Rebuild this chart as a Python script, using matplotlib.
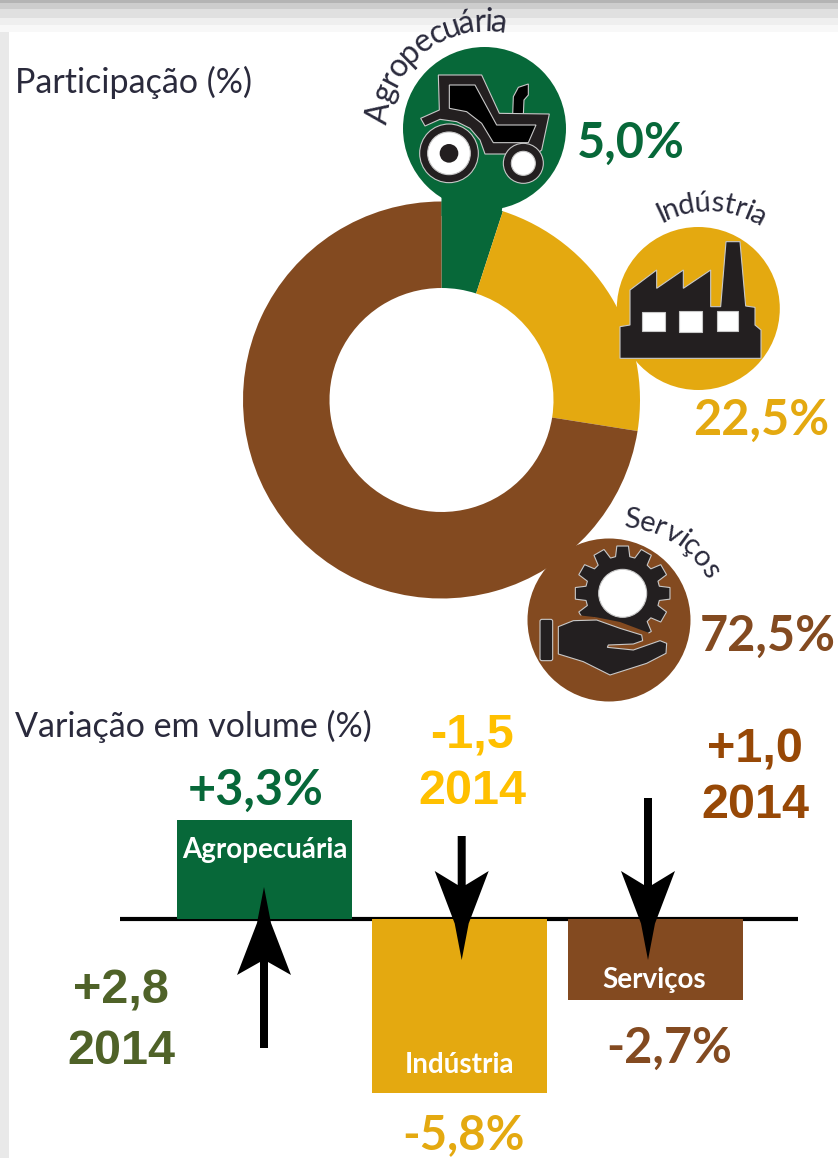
import numpy as np
import matplotlib
matplotlib.use('Agg')
import matplotlib.pyplot as plt
from matplotlib.patches import Circle, Polygon, Rectangle, FancyBboxPatch
from matplotlib.textpath import TextPath
from matplotlib.font_manager import FontProperties

W, H = 838, 1158

# Participacao (%)
sectors = ['Agropecuária', 'Indústria', 'Serviços']
shares = [5.0, 22.5, 72.5]
share_labels = ['5,0%', '22,5%', '72,5%']
# Variacao em volume (%)
variation = [3.3, -5.8, -2.7]
variation_labels = ['+3,3%', '-5,8%', '-2,7%']
labels_2014 = ['+2,8', '-1,5', '+1,0']
year = '2014'

GREEN = '#076839'
GOLD = '#E4A910'
BROWN = '#834A20'
DARK = '#231F20'
INK = '#2A2A3C'
EDGE = '#C8C8C8'
colors = [GREEN, GOLD, BROWN]

plt.rcParams['font.family'] = ['Lato', 'DejaVu Sans']

fig = plt.figure(figsize=(W / 100, H / 100), dpi=100, facecolor='white')


def px_axes(x0, y0, x1, y1, z):
    return fig.add_axes([x0 / W, 1 - y1 / H, (x1 - x0) / W, (y1 - y0) / H], zorder=z)


# donut
cx, cy, R = 441.5, 400, 198.5
ax_pie = px_axes(cx - R, cy - R, cx + R, cy + R, 1)
ax_pie.pie(shares, colors=colors, startangle=90, counterclock=False, radius=1,
           wedgeprops=dict(width=1 - 112 / R, linewidth=0))
ax_pie.set_xlim(-1, 1)
ax_pie.set_ylim(-1, 1)
ax_pie.axis('off')

# bars, 30 px per percentage point, baseline at y=919
ax_bar = px_axes(120, 799, 798, 1099, 2)
ax_bar.bar(range(3), variation, width=175 / 195.25, color=colors, linewidth=0, zorder=2)
ax_bar.axhline(0, color='black', linewidth=3, zorder=1)
ax_bar.set_xlim((120 - 264.5) / 195.25, (798 - 264.5) / 195.25)
ax_bar.set_ylim(-6, 4)
ax_bar.axis('off')

# everything else is drawn in image pixels
ax = px_axes(0, 0, W, H, 3)
ax.set_xlim(0, W)
ax.set_ylim(H, 0)
ax.axis('off')

# screenshot edges
bands = [(0, 3, '#B4B4B4'), (3, 9, '#CDCDCD'), (9, 18, '#E0E0E0'), (18, 25, '#EFEFEF'), (25, 32, '#F8F8F8')]
for y0, y1, c in bands:
    ax.add_patch(Rectangle((0, y0), W, y1 - y0, color=c, lw=0))
ax.add_patch(Rectangle((0, 32), 9, H - 32, color='#E9E9E9', lw=0))


def zoomed(pts, ox, oy):
    return [(ox + p[0] / 3, oy + p[1] / 3) for p in pts]


def shape(pts, ox, oy, fc=DARK, ec=EDGE, lw=0.8):
    ax.add_patch(Polygon(zoomed(pts, ox, oy), closed=True, fc=fc, ec=ec, lw=lw))


def disc(x, y, r, ox, oy, fc, ec=EDGE, lw=0.8):
    ax.add_patch(Circle((ox + x / 3, oy + y / 3), r / 3, fc=fc, ec=ec, lw=lw))


def curved(text, xc, yc, r, start, size, gap):
    # one glyph at a time along a circle, angle in degrees from 12 o'clock
    fp = FontProperties(family='Lato', size=size)
    a = np.radians(start)
    for ch in text:
        w = TextPath((0, 0), ch, prop=fp).get_extents().width * 100 / 72 + gap
        mid = a + (w / 2) / r
        x = xc + r * np.sin(mid)
        y = yc - r * np.cos(mid)
        ax.text(x, y, ch, fontproperties=fp, color=INK, ha='center', va='baseline',
                rotation=-np.degrees(mid), rotation_mode='anchor')
        a += w / r


# agro badge
ax.add_patch(Circle((484.5, 128.5), 81.5, color=GREEN, lw=0))
ax.add_patch(Polygon([(441.5, 190), (441.5, 216), (501, 216), (505, 190)], color=GREEN, lw=0))
ox, oy = 360, 0
shape([(458, 345), (460, 290), (475, 262), (505, 252), (505, 285), (492, 300), (490, 345)], ox, oy, fc='black')
shape([(182, 355), (238, 330), (235, 225), (365, 225), (418, 340), (568, 342), (545, 450), (530, 462),
       (375, 462), (360, 420), (330, 385), (290, 365), (240, 358), (195, 378)], ox, oy, fc=DARK)
shape([(268, 255), (345, 255), (410, 375), (528, 375), (505, 428), (400, 428), (365, 370), (320, 335),
       (268, 325)], ox, oy, fc='black')
disc(267, 460, 88, ox, oy, DARK)
disc(267, 460, 64, ox, oy, 'white')
disc(267, 460, 28, ox, oy, DARK, ec='none')
disc(490, 490, 60, ox, oy, DARK)
disc(490, 490, 36, ox, oy, 'white')
curved(sectors[0], 484.5, 128.5, 97, -88, 23, 1.2)

# industry badge
ax.add_patch(Circle((698.3, 308.5), 81.5, color=GOLD, lw=0))
ox, oy = 600, 180
shape([(60, 535), (60, 440), (90, 435), (90, 330), (170, 270), (170, 325), (250, 270), (250, 325), (332, 270),
       (332, 380), (362, 380), (378, 185), (420, 185), (437, 378), (465, 382), (465, 435), (483, 450), (483, 535)],
      ox, oy)
for x0, y0, x1, y1 in [(127, 395, 195, 452), (237, 392, 305, 455), (350, 392, 415, 452)]:
    shape([(x0, y0), (x1, y0), (x1, y1), (x0, y1)], ox, oy, fc='white')
curved(sectors[1], 707.6, 311.4, 100, -26.5, 21, 2)

# services badge
ax.add_patch(Circle((609, 620), 81.5, color=BROWN, lw=0))
ox, oy = 520, 500
gear = []
for k in range(12):
    t = np.radians(30 * k)
    for da, rr in [(-11, 112), (-7, 143), (7, 143), (11, 112)]:
        gear.append((308 + rr * np.sin(t + np.radians(da)), 280 - rr * np.cos(t + np.radians(da))))
shape(gear, ox, oy)
disc(308, 280, 72, ox, oy, 'white')
shape([(170, 345), (230, 352), (300, 366), (385, 398), (400, 440), (170, 440)], ox, oy, fc=BROWN, ec='none', lw=0)
ax.add_patch(FancyBboxPatch((520 + 60 / 3, 500 + 358 / 3), 38 / 3, 124 / 3, boxstyle='round,pad=0,rounding_size=2',
                            fc=DARK, ec=EDGE, lw=0.8))
shape([(115, 380), (160, 362), (230, 360), (300, 385), (365, 405), (368, 422), (340, 432), (265, 435), (262, 442),
       (340, 450), (420, 422), (440, 430), (438, 460), (380, 490), (270, 525), (190, 485), (115, 462)], ox, oy)
curved(sectors[2], 620, 625, 97.5, 2, 21, 1.6)


def arrow(x, tail, tip, wing, notch):
    # wing and notch are y positions of the head's back
    mid = (wing + tip) / 2 + 8 * np.sign(tip - wing)
    ax.add_patch(Polygon([(x - 4, tail), (x + 4, tail), (x + 4, notch), (x + 27, wing), (x + 7, mid),
                          (x, tip), (x - 7, mid), (x - 27, wing), (x - 4, notch)],
                         closed=True, fc='black', ec='none'))


arrow(264, 1048, 887, 975, 962)
arrow(461.7, 836, 960, 871, 885)
arrow(648, 798, 960, 871, 885)

# text
ax.text(15, 82, 'Participação (%)', fontsize=24.5, color=INK, ha='left', va='center')
ax.text(15, 726, 'Variação em volume (%)', fontsize=24.5, color=INK, ha='left', va='center')

big = dict(fontsize=35, fontweight='bold', va='center')
ax.text(631, 143, share_labels[0], color=GREEN, ha='center', **big)
ax.text(761, 420, share_labels[1], color=GOLD, ha='center', **big)
ax.text(768, 636, share_labels[2], color=BROWN, ha='center', **big)
ax.text(256, 790, variation_labels[0], color=GREEN, ha='center', **big)
ax.text(463, 1135, variation_labels[1], color=GOLD, ha='center', fontsize=34, fontweight='bold', va='center')
ax.text(669, 1048, variation_labels[2], color=BROWN, ha='center', **big)

inside = dict(fontsize=20, fontweight='bold', color='white', ha='center', va='center')
ax.text(264.5, 850, sectors[0], **inside)
ax.text(459, 1065, sectors[1], **inside)
ax.text(654, 980, sectors[2], **inside)

y14 = dict(family='Liberation Sans', fontsize=35, fontweight='bold', ha='center', va='center')
ax.text(121, 991, labels_2014[0], color='#4F6228', **y14)
ax.text(121, 1052, year, color='#4F6228', **y14)
ax.text(472, 735, labels_2014[1], color='#FFC000', **y14)
ax.text(472, 792, year, color='#FFC000', **y14)
ax.text(755, 750, labels_2014[2], color='#974806', **y14)
ax.text(755, 805, year, color='#974806', **y14)

fig.savefig('out.png', dpi=100)
